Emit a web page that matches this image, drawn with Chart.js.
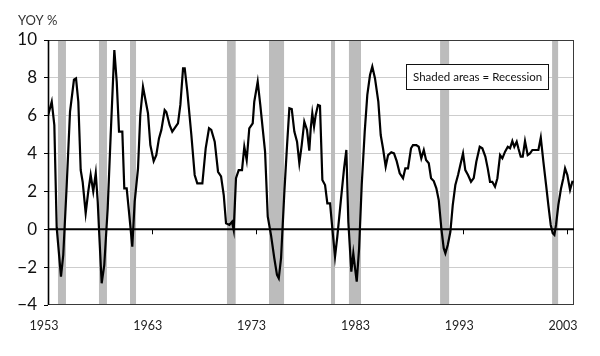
<!DOCTYPE html>
<html><head><meta charset="utf-8">
<script src="https://cdn.jsdelivr.net/npm/chart.js@4.4.1/dist/chart.umd.min.js"></script>
<style>html,body{margin:0;padding:0;background:#fff}#wrap{width:600px;height:356px}</style>
</head><body><div id="wrap"><canvas id="c" width="600" height="356"></canvas></div>
<script>
const years = [1953.0,1953.36,1953.61,1953.84,1954.25,1954.47,1954.80,1955.12,1955.50,1955.70,1955.92,1956.15,1956.34,1956.63,1956.88,1957.11,1957.36,1957.60,1957.79,1957.94,1958.17,1958.42,1958.75,1959.04,1959.39,1959.62,1959.84,1960.16,1960.35,1960.58,1960.80,1961.12,
1961.35,1961.67,1961.89,1962.15,1962.63,1962.86,1963.18,1963.43,1963.69,1963.92,1964.24,1964.40,1964.72,1964.97,1965.30,1965.52,1965.75,1966.01,1966.17,1966.42,1966.81,1967.13,1967.38,1967.87,1968.19,1968.51,1968.73,1969.06,1969.38,1969.67,
1969.93,1970.15,1970.47,1970.73,1970.89,1971.11,1971.37,1971.69,1971.91,1972.14,1972.39,1972.72,1972.87,1973.20,1973.45,1973.68,1973.91,1974.17,1974.48,1974.80,1975.06,1975.23,1975.45,1975.77,1976.03,1976.25,1976.48,1976.73,1976.99,1977.21,1977.44,1977.69,1977.95,1978.17,
1978.31,1978.46,1978.63,1978.79,1979.01,1979.20,1979.43,1979.69,1979.91,1980.17,1980.39,1980.65,1980.87,1981.20,1981.52,1981.74,1981.93,1982.22,1982.41,1982.58,1982.74,1982.97,1983.22,1983.51,1983.76,1984.02,1984.24,1984.50,1984.82,1985.05,1985.27,1985.53,1985.76,1986.07,1986.33,1986.59,1986.88,
1987.20,1987.42,1987.68,1987.97,1988.16,1988.48,1988.71,1988.96,1989.20,1989.42,1989.68,1989.90,1990.16,1990.41,1990.64,1990.89,1991.12,1991.28,1991.51,1991.76,1991.99,1992.24,1992.50,1992.72,1992.98,1993.20,1993.46,1993.75,1994.01,1994.26,1994.59,1994.84,1995.13,
1995.36,1995.58,1995.80,1996.06,1996.29,1996.55,1996.77,1997.03,1997.29,1997.51,1997.73,1997.92,1998.15,1998.31,1998.54,1998.73,1998.95,1999.21,1999.43,1999.66,1999.92,2000.24,2000.47,2000.72,2000.98,2001.20,2001.43,2001.62,2001.78,2001.94,2002.16,2002.42,2002.64,2002.81,2003.03,2003.29,2003.51,2003.63];

const yoy = [6.0,6.74,5.5,0.07,-2.5,-1.36,2.3,6.2,7.9,7.97,6.74,3.13,2.5,0.85,2.0,2.87,2.0,2.96,1.46,-0.3,-2.85,-1.9,1.1,5.0,9.47,7.8,5.16,5.16,2.16,2.16,0.93,-0.92,
1.46,3.2,6.04,7.53,6.13,4.45,3.6,3.92,4.8,5.25,6.3,6.2,5.5,5.16,5.42,5.6,6.57,8.5,8.5,7.27,4.98,2.87,2.43,2.43,4.28,5.34,5.25,4.63,3.04,2.8,
1.81,0.32,0.23,0.4,-0.04,2.7,3.13,3.13,4.36,3.66,5.33,5.6,6.74,7.8,6.57,5.33,4.1,0.67,-0.3,-1.53,-2.41,-2.59,-1.53,1.99,4.45,6.39,6.35,5.16,4.63,3.49,4.45,5.69,5.25,4.15,
5.33,6.13,5.42,6.04,6.57,6.53,2.6,2.34,1.37,1.37,0.05,-1.45,-0.39,1.46,3.22,4.19,0.4,-2.24,-1.27,-2.06,-2.77,-1.0,2.34,5.16,7.1,8.15,8.6,7.97,6.74,4.98,4.28,3.31,3.92,4.07,4.01,3.6,2.96,
2.7,3.22,3.22,4.28,4.45,4.45,4.36,3.75,4.19,3.66,3.49,2.7,2.55,2.16,1.55,0.05,-1.0,-1.27,-0.83,-0.13,1.28,2.34,2.87,3.4,4.01,3.13,2.87,2.51,2.7,3.57,4.36,4.28,3.84,
3.22,2.51,2.51,2.25,2.7,3.92,3.75,4.1,4.36,4.28,4.66,4.36,4.63,4.28,3.84,3.84,4.66,3.92,4.01,4.19,4.19,4.19,4.84,3.57,2.34,1.28,0.23,-0.21,-0.3,0.23,1.28,2.16,2.7,3.22,2.87,2.08,2.51,2.5];

const recessionStart = [1953.96,1957.91,1960.90,1970.24,1974.29,1980.26,1981.99,1990.77,2001.56];
const recessionEnd   = [1954.73,1958.68,1961.48,1971.08,1975.74,1980.65,1983.15,1991.64,2002.14];

const xTickYears = [1953,1963,1973,1983,1993,2003];
const yTickValues = [-4,-2,0,2,4,6,8,10];
const axisTitle = 'YOY %';
const legendText = 'Shaded areas = Recession';

const FONT = 'Lato, "DejaVu Sans", sans-serif';

const decor = {
  id: 'decor',
  beforeDatasetsDraw(chart) {
    const {ctx, chartArea: a, scales: {x, y}} = chart;
    ctx.save();
    ctx.fillStyle = '#bcbcbc';
    for (let i = 0; i < recessionStart.length; i++) {
      const x0 = x.getPixelForValue(recessionStart[i]);
      const x1 = x.getPixelForValue(recessionEnd[i]);
      ctx.fillRect(x0, a.top, x1 - x0, a.bottom - a.top);
    }
    // frame (top/right/bottom)
    ctx.strokeStyle = '#3a3a3a';
    ctx.lineWidth = 1;
    ctx.strokeRect(a.left + 0.5, a.top + 0.5, a.right - a.left - 1, a.bottom - a.top - 1);
    // left axis
    ctx.strokeStyle = '#000';
    ctx.lineWidth = 1.6;
    ctx.beginPath(); ctx.moveTo(a.left + 0.5, a.top); ctx.lineTo(a.left + 0.5, a.bottom); ctx.stroke();
    // zero line
    const y0 = y.getPixelForValue(0);
    ctx.lineWidth = 2;
    ctx.beginPath(); ctx.moveTo(a.left, y0); ctx.lineTo(a.right, y0); ctx.stroke();
    ctx.lineWidth = 1;
    for (const t of xTickYears) {
      const px = Math.round(x.getPixelForValue(t)) + 0.5;
      ctx.beginPath(); ctx.moveTo(px, y0); ctx.lineTo(px, y0 + 5); ctx.stroke();
    }
    ctx.restore();
  },
  afterDraw(chart) {
    const {ctx} = chart;
    ctx.save();
    // legend box
    ctx.fillStyle = '#fff';
    ctx.fillRect(406, 64, 142, 25);
    ctx.strokeStyle = '#111';
    ctx.lineWidth = 1;
    ctx.strokeRect(406.5, 64.5, 142, 25);
    ctx.fillStyle = '#111';
    ctx.font = '13px ' + FONT;
    ctx.textBaseline = 'middle';
    ctx.textAlign = 'left';
    let fs = 13;
    while (ctx.measureText(legendText).width > 130 && fs > 9) { fs -= 0.25; ctx.font = fs + 'px ' + FONT; }
    ctx.fillText(legendText, 413, 77.5);
    // axis title
    ctx.fillStyle = '#333';
    ctx.font = '13px ' + FONT;
    ctx.fillText(axisTitle, 18, 21);
    ctx.restore();
  }
};

new Chart(document.getElementById('c'), {
  type: 'line',
  data: {
    datasets: [{
      data: years.map((v, i) => ({x: v, y: yoy[i]})),
      borderColor: '#000',
      borderWidth: 2.2,
      pointRadius: 0,
      tension: 0,
      fill: false
    }]
  },
  options: {
    responsive: false,
    animation: false,
    devicePixelRatio: 1,
    layout: {padding: {top: 40, right: 26, left: 0, bottom: 0}},
    plugins: {legend: {display: false}, tooltip: {enabled: false}, title: {display: false}},
    scales: {
      x: {
        type: 'linear',
        min: 1953,
        max: 2003.67,
        afterFit(s) { s.height = 51; },
        afterBuildTicks(s) { s.ticks = xTickYears.map(v => ({value: v})); },
        grid: {display: false, drawTicks: false, tickLength: 0},
        border: {display: false},
        ticks: {
          padding: 13,
          labelOffset: -4,
          maxRotation: 0,
          autoSkip: false,
          color: '#222',
          font: {family: FONT, size: 12.5},
          callback: v => String(v)
        }
      },
      y: {
        min: -4,
        max: 10,
        afterFit(s) { s.width = 48; },
        afterBuildTicks(s) { s.ticks = yTickValues.map(v => ({value: v})); },
        grid: {
          color: ctx => (ctx.tick && (ctx.tick.value === 0 || ctx.tick.value === 10 || ctx.tick.value === -4)) ? 'rgba(0,0,0,0)' : '#cdcdcd',
          lineWidth: 1,
          tickColor: '#000',
          tickLength: 4,
          drawTicks: true
        },
        border: {display: false},
        ticks: {
          padding: 7,
          color: '#111',
          font: {family: FONT, size: 17},
          callback: v => (v < 0 ? '\u2212' + Math.abs(v) : String(v))
        }
      }
    }
  },
  plugins: [decor]
});
</script>
</body></html>
